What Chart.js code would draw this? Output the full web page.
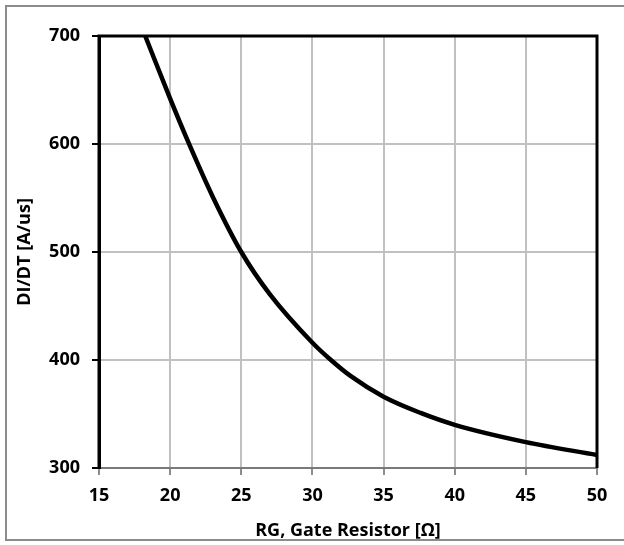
<!DOCTYPE html>
<html>
<head>
<meta charset="utf-8">
<script src="https://cdn.jsdelivr.net/npm/chart.js@4/dist/chart.umd.min.js"></script>
<style>
  html, body { margin: 0; padding: 0; background: #fff; }
  #wrap { position: relative; width: 624px; height: 545px; overflow: hidden; }
  #frame { position: absolute; left: 5px; top: 5px; width: 640px; height: 536px; border: 2px solid #8c8c8c; box-sizing: border-box; }
  canvas { position: absolute; left: 0; top: 0; }
</style>
</head>
<body>
<div id="wrap">
  <div id="frame"></div>
  <canvas id="c" width="624" height="545"></canvas>
</div>
<script>
// Data
const gateResistance = [18.25, 20, 21.3, 23, 25, 27, 30, 31.3, 32.7, 35, 37.6, 40, 45, 50];
const diDt = [700, 642, 601, 551, 500, 461, 416, 400, 385, 366, 351, 340, 324, 312];
const xTicks = [15, 20, 25, 30, 35, 40, 45, 50];
const yTicks = [300, 400, 500, 600, 700];
const xTitle = 'RG, Gate Resistor [Ω]';
const yTitle = 'DI/DT [A/us]';

const FONT = "'Open Sans', sans-serif";

const framePlugin = {
  id: 'frame',
  afterDraw(chart) {
    const { ctx, chartArea: a } = chart;
    ctx.save();
    ctx.strokeStyle = '#000';
    ctx.lineWidth = 3;
    ctx.beginPath();
    ctx.moveTo(a.left - 1.5, a.top);
    ctx.lineTo(a.right, a.top);
    ctx.lineTo(a.right, a.bottom);
    ctx.moveTo(a.left, a.top);
    ctx.lineTo(a.left, a.bottom);
    ctx.stroke();
    ctx.restore();
  }
};

new Chart(document.getElementById('c'), {
  type: 'line',
  data: {
    datasets: [{
      data: gateResistance.map((x, i) => ({ x: x, y: diDt[i] })),
      borderColor: '#000',
      borderWidth: 4.5,
      pointRadius: 0,
      fill: false,
      cubicInterpolationMode: 'monotone'
    }]
  },
  options: {
    responsive: false,
    animation: false,
    layout: { padding: { left: 14, top: 36, right: 27, bottom: 3 } },
    plugins: { legend: { display: false }, tooltip: { enabled: false } },
    scales: {
      x: {
        type: 'linear',
        min: xTicks[0],
        max: xTicks[xTicks.length - 1],
        afterBuildTicks: s => { s.ticks = xTicks.map(v => ({ value: v })); },
        afterFit: s => { s.height = 74; },
        ticks: { color: '#000', font: { family: FONT, size: 18, weight: 'bold' }, padding: 10, maxRotation: 0 },
        grid: { color: '#c0c0c0', lineWidth: 2, tickLength: 7, tickColor: '#8c8c8c', tickWidth: 2 },
        border: { display: true, color: '#7a7a7a', width: 2 },
        title: { display: true, text: xTitle, color: '#000', font: { family: FONT, size: 18, weight: 'bold' }, padding: { top: 2, bottom: 0 } }
      },
      y: {
        type: 'linear',
        min: yTicks[0],
        max: yTicks[yTicks.length - 1],
        afterBuildTicks: s => { s.ticks = yTicks.map(v => ({ value: v })); },
        afterFit: s => { s.width = 85; },
        ticks: { color: '#000', font: { family: FONT, size: 18, weight: 'bold' }, padding: 12 },
        grid: { color: '#c0c0c0', lineWidth: 2, tickLength: 7, tickColor: '#000', tickWidth: 2 },
        border: { display: true, color: '#000', width: 3 },
        title: { display: true, text: yTitle, color: '#000', font: { family: FONT, size: 18, weight: 'bold' }, padding: { top: 0, bottom: 0 } }
      }
    }
  },
  plugins: [framePlugin]
});
</script>
</body>
</html>
